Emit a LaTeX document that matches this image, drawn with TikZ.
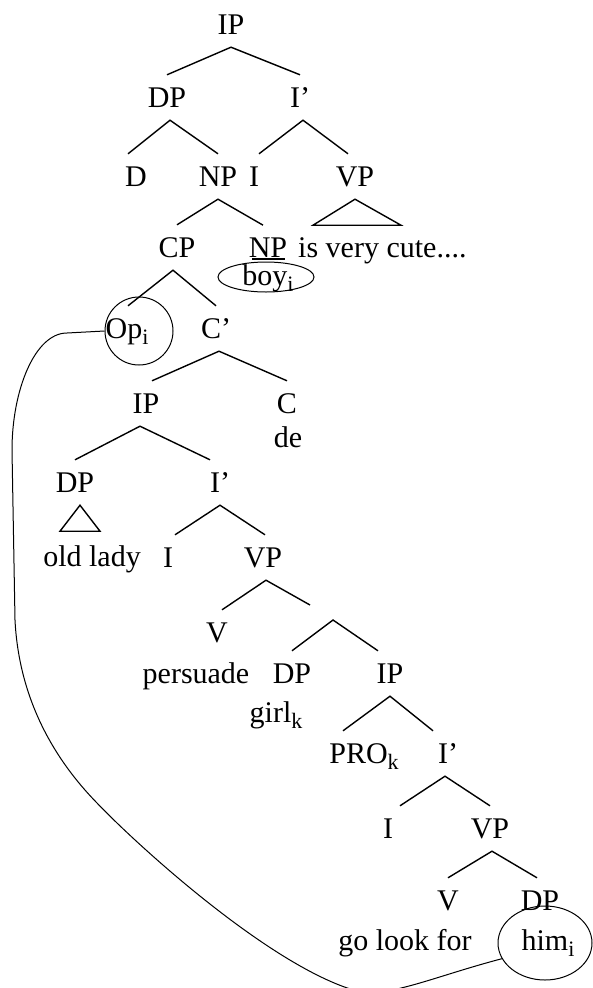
\documentclass[tikz,border=0pt]{standalone}
\usepackage{fontspec}
\setmainfont{Liberation Serif}
\usetikzlibrary{shapes.geometric}
% lowered index letter (co-indexation subscripts)
\newcommand\lowidx[1]{\raisebox{-6pt}{\fontsize{22}{24}\selectfont #1}}
\begin{document}
\begin{tikzpicture}[x=1pt,y=-1pt,
  font=\fontsize{30}{33}\selectfont,
  cat/.style={inner sep=0pt, text height=32pt, text depth=13pt, anchor=base},
  word/.style={inner sep=0pt, anchor=base},
  branch/.style={line width=1.4pt, line join=miter},
  ring/.style={draw, line width=1pt, inner sep=0pt},
  link/.style={line width=1pt}]
\useasboundingbox[fill=white] (0,0) rectangle (592,988);

% ---------- matrix clause ----------
\node[cat] (ip0)   at (231,34)  {IP};
\node[cat] (dp0)   at (167,107) {DP};
\node[cat] (ib0)   at (300,107) {I’};
\node[cat] (d0)    at (136,186) {D};
\node[cat] (np0)   at (218,186) {NP};
\node[cat] (i0)    at (254,186) {I};
\node[cat] (vp0)   at (355,186) {VP};
\node[cat] (cp0)   at (177,257) {CP};
\node[word] (np1)  at (268,257) {NP};
\draw[line width=1.2pt] ([xshift=-16,yshift=-2]np1.base) -- ([xshift=17,yshift=-2]np1.base);
\node[word,anchor=base west] (cute) at (298,257) {is very cute....};

\node[ring, ellipse, minimum width=96pt, minimum height=30pt] (boyring) at (266,277) {};
\node[word] (boy) at (268,285) {boy\lowidx{i}};

% ---------- relative clause ----------
\node[cat] (op)    at (127,338) {Op\lowidx{i}};
\node[ring, circle, minimum size=68pt] (opring) at (139,331) {};
\node[cat] (cb1)   at (216,338) {C’};
\node[cat] (ip1)   at (146,413) {IP};
\node[cat] (c1)    at (287,413) {C};
\node[word] (de)   at (288,447) {de};
\node[cat] (dp1)   at (75,492)  {DP};
\node[cat] (ib1)   at (220,492) {I’};
\node[word] (lady) at (92,566)  {old lady};
\node[cat] (i1)    at (168,567) {I};
\node[cat] (vp1)   at (263,567) {VP};
\node[cat] (v1)    at (217,642) {V};
\coordinate (vbarTop) at (310,605);
\coordinate (vbar)    at (333,620);
\node[word] (pers) at (196,683) {persuade};
\node[cat] (dp2)   at (292,683) {DP};
\node[cat] (ip2)   at (390,683) {IP};
\node[word] (girl) at (276,722) {girl\lowidx{k}};
\node[cat] (pro)   at (364,763) {PRO\lowidx{k}};
\node[cat] (ib2)   at (448,763) {I’};
\node[cat] (i2)    at (388,838) {I};
\node[cat] (vp2)   at (490,838) {VP};
\node[cat] (v2)    at (448,910) {V};
\node[cat] (dp3)   at (540,910) {DP};
\node[word] (look) at (405,950) {go look for};
\node[word] (him)  at (548,950) {him\lowidx{i}};
\node[ring, ellipse, minimum width=94pt, minimum height=74pt] (himring) at (545,943) {};

% ---------- branches ----------
\draw[branch] (dp0.north) -- (ip0.south) -- (ib0.north);
\draw[branch] ([xshift=-8]d0.north) -- ([xshift=3]dp0.south) -- (np0.north);
\draw[branch] ([xshift=5]i0.north) -- ([xshift=3]ib0.south) -- ([xshift=-7]vp0.north);
\draw[branch] (vp0.south) -- ++(-42,26) -- ++(88,0) -- cycle;
\draw[branch] (cp0.north) -- (np0.south) -- ([xshift=-5,yshift=12]np1.north);
\draw[branch] ([xshift=1]op.north) -- ([xshift=-4]cp0.south) -- (cb1.north);
\draw[branch] ([xshift=6]ip1.north) -- ([xshift=3]cb1.south) -- (c1.north);
\draw[branch] (dp1.north) -- ([xshift=-6]ip1.south) -- ([xshift=-10]ib1.north);
\draw[branch] ([xshift=5]dp1.south) -- ++(-20,26) -- ++(40,0) -- cycle;
\draw[branch] ([xshift=7]i1.north) -- (ib1.south) -- ([xshift=2]vp1.north);
\draw[branch] ([xshift=5]v1.north) -- ([xshift=3]vp1.south) -- (vbarTop);
\draw[branch] (dp2.north) -- (vbar) -- ([xshift=-12]ip2.north);
\draw[branch] ([xshift=-21]pro.north) -- (ip2.south) -- ([xshift=-15]ib2.north);
\draw[branch] ([xshift=12]i2.north) -- ([xshift=-3]ib2.south) -- (vp2.north);
\draw[branch] (v2.north) -- ([xshift=2]vp2.south) -- ([xshift=-3]dp3.north);

% ---------- binding link Op -- him ----------
\draw[link] (opring.west) -- (67,333)
  .. controls (35,333) and (12,390) .. (12,450)
  -- (15,620)
  .. controls (19,700) and (55,760) .. (97,803)
  .. controls (140,848) and (280,975) .. (365,993)
  .. controls (400,993) and (440,975) .. (himring.200);
\end{tikzpicture}
\end{document}
